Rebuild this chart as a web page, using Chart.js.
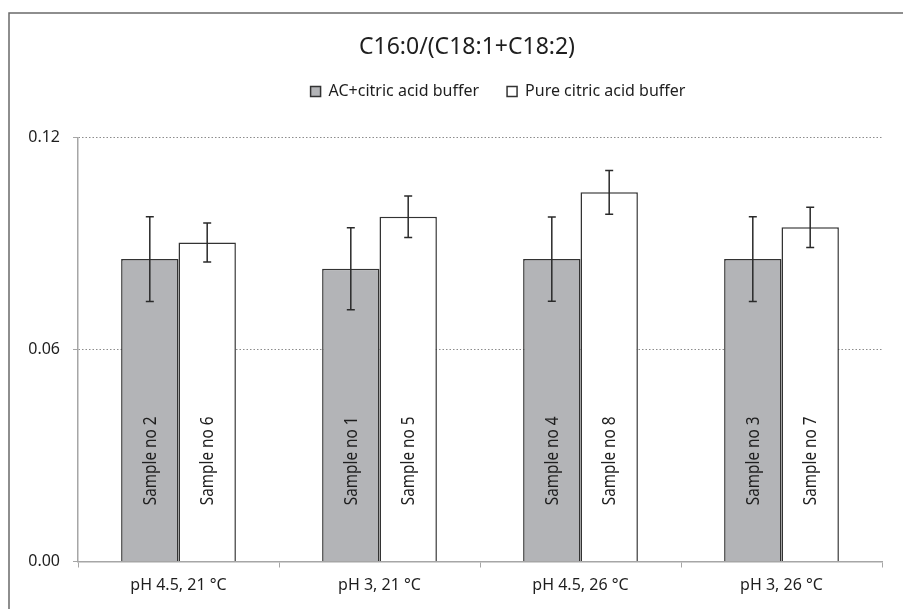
<!DOCTYPE html>
<html>
<head>
<meta charset="utf-8">
<script src="https://cdn.jsdelivr.net/npm/chart.js@4.4.1/dist/chart.umd.min.js"></script>
<style>
html,body{margin:0;padding:0;background:#fff;}
#wrap{width:903px;height:609px;}
</style>
</head>
<body>
<div id="wrap"><canvas id="c" width="903" height="609"></canvas></div>
<script>
// ---- data ----
const categories = ['pH 4.5, 21 \u00B0C', 'pH 3, 21 \u00B0C', 'pH 4.5, 26 \u00B0C', 'pH 3, 26 \u00B0C'];
const seriesNames = ['AC+citric acid buffer', 'Pure citric acid buffer'];
const acValues = [0.0856, 0.0829, 0.0856, 0.0856];
const acErrors = [0.0120, 0.0116, 0.0119, 0.0120];
const pureValues = [0.0903, 0.0976, 0.1045, 0.0946];
const pureErrors = [0.0055, 0.0059, 0.0062, 0.0057];
const acSamples = ['Sample no 2', 'Sample no 1', 'Sample no 4', 'Sample no 3'];
const pureSamples = ['Sample no 6', 'Sample no 5', 'Sample no 8', 'Sample no 7'];
const yTicks = [0, 0.06, 0.12];
const chartTitle = 'C16:0/(C18:1+C18:2)';

const FONT = "'Noto Sans', 'Open Sans', sans-serif";
const errorsByDataset = [acErrors, pureErrors];
const samplesByDataset = [acSamples, pureSamples];

const framePlugin = {
  id: 'frame',
  beforeDraw(chart) {
    const ctx = chart.ctx;
    ctx.save();
    ctx.strokeStyle = '#6a6a6a';
    ctx.lineWidth = 1.5;
    ctx.beginPath();
    ctx.moveTo(9, chart.height);
    ctx.lineTo(9, 13);
    ctx.lineTo(chart.width, 13);
    ctx.stroke();
    ctx.restore();
  }
};

function shiftDraw(box, dx, dy) {
  if (!box || box._shifted) return;
  const d = box.draw;
  box.draw = function () {
    const ctx = this.ctx;
    ctx.save();
    ctx.translate(dx, dy);
    d.apply(this, arguments);
    ctx.restore();
  };
  box._shifted = true;
}

const headerPlugin = {
  id: 'headerTweak',
  beforeLayout(chart) {
    const lg = chart.legend;
    if (lg && !lg._gapPatched) {
      const f = lg.fit;
      lg.fit = function () { f.apply(this, arguments); this.height += 27; };
      lg._gapPatched = true;
    }
    shiftDraw(chart.legend, 57, -1);
    shiftDraw(chart.titleBlock, 26, 5);
  }
};

const errorBarPlugin = {
  id: 'errorBars',
  afterDatasetsDraw(chart) {
    const ctx = chart.ctx;
    const y = chart.scales.y;
    ctx.save();
    ctx.strokeStyle = '#2a2a2a';
    ctx.lineWidth = 1.5;
    chart.data.datasets.forEach((ds, di) => {
      const meta = chart.getDatasetMeta(di);
      meta.data.forEach((bar, i) => {
        const v = ds.data[i], e = errorsByDataset[di][i];
        const yt = y.getPixelForValue(v + e), yb = y.getPixelForValue(v - e);
        const x = bar.x, cap = 4;
        ctx.beginPath();
        ctx.moveTo(x, yt); ctx.lineTo(x, yb);
        ctx.moveTo(x - cap, yt); ctx.lineTo(x + cap, yt);
        ctx.moveTo(x - cap, yb); ctx.lineTo(x + cap, yb);
        ctx.stroke();
      });
    });
    ctx.restore();
  }
};

const barLabelPlugin = {
  id: 'barLabels',
  afterDatasetsDraw(chart) {
    const ctx = chart.ctx;
    const y = chart.scales.y;
    ctx.save();
    ctx.fillStyle = '#1e1e1e';
    ctx.font = '18px ' + FONT;
    ctx.textAlign = 'center';
    ctx.textBaseline = 'middle';
    chart.data.datasets.forEach((ds, di) => {
      const meta = chart.getDatasetMeta(di);
      meta.data.forEach((bar, i) => {
        ctx.save();
        ctx.translate(bar.x + 1, y.getPixelForValue(0.0285));
        ctx.rotate(-Math.PI / 2);
        ctx.scale(0.85, 1);
        ctx.fillText(samplesByDataset[di][i], 0, 0);
        ctx.restore();
      });
    });
    ctx.restore();
  }
};

new Chart(document.getElementById('c'), {
  type: 'bar',
  data: {
    labels: categories,
    datasets: [
      {
        label: seriesNames[0],
        data: acValues,
        backgroundColor: '#b3b4b7',
        borderColor: '#333333',
        borderWidth: 1.5,
        borderSkipped: 'bottom',
        categoryPercentage: 0.571,
        barPercentage: 1.0
      },
      {
        label: seriesNames[1],
        data: pureValues,
        backgroundColor: '#ffffff',
        borderColor: '#333333',
        borderWidth: 1.5,
        borderSkipped: 'bottom',
        categoryPercentage: 0.571,
        barPercentage: 1.0
      }
    ]
  },
  options: {
    responsive: false,
    animation: false,
    devicePixelRatio: 1,
    layout: { padding: { left: 0, right: 21, top: 0, bottom: 0 } },
    plugins: {
      title: {
        display: true,
        text: chartTitle,
        color: '#1e1e1e',
        font: { family: FONT, size: 23, weight: 'normal' },
        padding: { top: 29, bottom: 0 }
      },
      legend: {
        display: true,
        position: 'top',
        labels: {
          color: '#1e1e1e',
          font: { family: FONT, size: 16 },
          boxWidth: 10,
          boxHeight: 10,
          padding: 28
        }
      },
      tooltip: { enabled: false }
    },
    scales: {
      x: {
        grid: {
          display: true,
          offset: true,
          drawOnChartArea: false,
          drawTicks: true,
          tickLength: 6,
          color: '#a6a6a6',
          lineWidth: 1
        },
        border: { display: true, color: '#a6a6a6', width: 1.5 },
        ticks: {
          color: '#1e1e1e',
          font: { family: FONT, size: 16 },
          padding: 8,
          maxRotation: 0
        },
        afterFit(scale) { scale.height = 47.5; }
      },
      y: {
        min: 0,
        max: 0.12,
        afterBuildTicks(scale) { scale.ticks = yTicks.map(v => ({ value: v })); },
        grid: {
          display: true,
          color: '#8c8c8c',
          lineWidth: 1,
          tickBorderDash: [],
          tickColor: '#a6a6a6',
          tickLength: 5
        },
        border: { display: true, color: '#a6a6a6', width: 1.5, dash: [1.5, 2] },
        ticks: {
          color: '#1e1e1e',
          font: { family: FONT, size: 16 },
          padding: 13,
          callback: v => Number(v).toFixed(2)
        },
        afterFit(scale) { scale.width = 78; }
      }
    }
  },
  plugins: [framePlugin, headerPlugin, errorBarPlugin, barLabelPlugin]
});
</script>
</body>
</html>
